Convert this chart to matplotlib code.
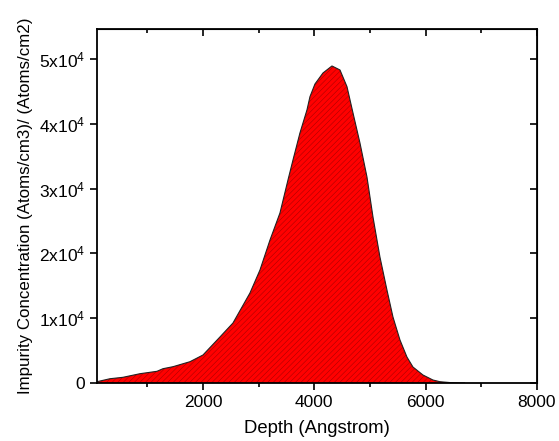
import numpy as np
import matplotlib
matplotlib.use('Agg')
from matplotlib import pyplot as plt
from matplotlib.ticker import MultipleLocator, FuncFormatter

plt.rcParams['font.family'] = ['Liberation Sans', 'DejaVu Sans']
plt.rcParams['hatch.linewidth'] = 0.35

# depth profile
depth = [96, 329, 563, 868, 1174, 1281, 1461, 1766, 2000, 2305, 2539, 2844,
         3024, 3204, 3383, 3527, 3617, 3742, 3868, 3922, 4012, 4156, 4317,
         4461, 4587, 4695, 4820, 4946, 5054, 5179, 5305, 5413, 5539, 5664,
         5772, 5952, 6131, 6257, 6450, 6616, 6700]
conc = [200, 660, 880, 1435, 1805, 2207, 2515, 3287, 4320, 7100, 9258, 13887,
        17436, 22065, 26231, 31323, 34409, 38575, 42124, 44176, 46136, 47833,
        48913, 48296, 45720, 41661, 37032, 31786, 25614, 19442, 14350, 10184,
        6635, 4012, 2469, 1234, 463, 200, 60, 10, 0]

fig = plt.figure(figsize=(5.59, 4.41), dpi=100)
ax = fig.add_axes([0.1735, 0.1315, 0.7871, 0.8025])

ax.fill_between(depth, conc, 0, facecolor='#ff0000', edgecolor='#a00000',
                hatch='//////', linewidth=0)
ax.plot(depth, conc, color='#222222', lw=0.8)

ax.set_xlim(96, 8000)
ax.set_ylim(0, 54600)
ax.xaxis.set_major_locator(MultipleLocator(2000))
ax.xaxis.set_minor_locator(MultipleLocator(1000))
ax.yaxis.set_major_locator(MultipleLocator(10000))


def sci(v, pos):
    if v == 0:
        return '0'
    return r'$\mathregular{%dx10^{4}}$' % round(v / 1e4)


ax.yaxis.set_major_formatter(FuncFormatter(sci))
ax.tick_params(which='major', direction='out', length=5, width=1.2, labelsize=12.5)
ax.tick_params(which='minor', direction='out', length=3, width=1.2)
for s in ax.spines.values():
    s.set_linewidth(1.3)

top = ax.secondary_xaxis('top')
top.xaxis.set_major_locator(MultipleLocator(2000))
top.xaxis.set_minor_locator(MultipleLocator(1000))
top.tick_params(which='major', direction='in', length=5, width=1.2, labeltop=False)
top.tick_params(which='minor', direction='in', length=3, width=1.2)
right = ax.secondary_yaxis('right')
right.yaxis.set_major_locator(MultipleLocator(10000))
right.tick_params(direction='in', length=5, width=1.2, labelright=False)

ax.set_xlabel('Depth (Angstrom)', fontsize=13.3, labelpad=7)
ax.set_ylabel('Impurity Concentration (Atoms/cm3)/ (Atoms/cm2)', fontsize=12.2)

fig.savefig('out.png', dpi=100)
